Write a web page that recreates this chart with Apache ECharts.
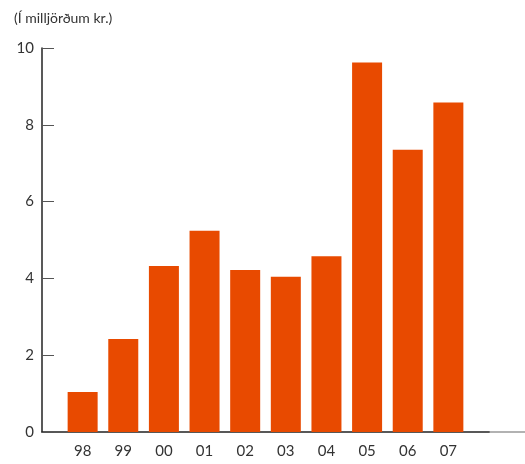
<!DOCTYPE html>
<html>
<head>
<meta charset="utf-8">
<script src="https://cdn.jsdelivr.net/npm/echarts@6/dist/echarts.min.js"></script>
<style>
html, body { margin: 0; padding: 0; background: #fff; }
#main { width: 525px; height: 464px; }
</style>
</head>
<body>
<div id="main"></div>
<script>
// ár (x-ás) og gildi í milljörðum kr.
var years = ['98', '99', '00', '01', '02', '03', '04', '05', '06', '07'];
var values = [1.04, 2.42, 4.32, 5.24, 4.22, 4.04, 4.58, 9.62, 7.35, 8.58];
var yTicks = [0, 2, 4, 6, 8, 10];

var chart = echarts.init(document.getElementById('main'));

// stöplar settir á x = 1..10 á gildisás
var barData = values.map(function (v, i) { return [i + 1, v]; });

var option = {
    animation: false,
    textStyle: { fontFamily: 'Lato, "Noto Sans", sans-serif' },
    title: {
        text: '(Í milljörðum kr.)',
        left: 9,
        top: 6,
        textStyle: { fontSize: 14, fontWeight: 'normal', color: '#333' }
    },
    grid: { left: 42, right: 36, top: 48, bottom: 32 },
    xAxis: {
        type: 'value',
        min: 0,
        max: years.length + 1,
        interval: 1,
        splitLine: { show: false },
        axisTick: { show: false },
        axisLine: { show: true, lineStyle: { color: '#222', width: 1.5 } },
        axisLabel: {
            color: '#333',
            fontSize: 15,
            margin: 12,
            formatter: function (v) { return years[v - 1] || ''; }
        }
    },
    yAxis: {
        type: 'value',
        min: yTicks[0],
        max: yTicks[yTicks.length - 1],
        interval: 2,
        splitLine: { show: false },
        axisLine: { show: true, lineStyle: { color: '#222', width: 1.5 } },
        axisTick: { show: true, inside: true, length: 12, lineStyle: { color: '#555' } },
        axisLabel: { color: '#333', fontSize: 15, margin: 8 }
    },
    graphic: [{
        type: 'line',
        shape: { x1: 489, y1: 432, x2: 525, y2: 432 },
        style: { stroke: '#999', lineWidth: 1.5 }
    }],
    series: [{
        type: 'bar',
        data: barData,
        barWidth: 30,
        itemStyle: { color: '#E84A00' }
    }]
};

chart.setOption(option);
</script>
</body>
</html>
